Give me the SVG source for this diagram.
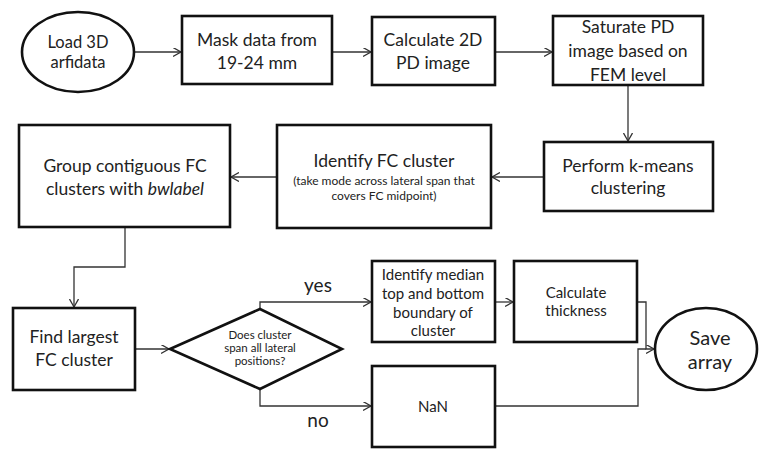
<svg xmlns="http://www.w3.org/2000/svg" width="760" height="450" viewBox="0 0 760 450">
<defs>
<style>
.box{fill:#fff;stroke:#111;stroke-width:2.6}
.con{fill:none;stroke:#333;stroke-width:1.3}
.t{font-family:Lato,"Open Sans",sans-serif;fill:#222;text-anchor:middle}
.big{font-size:17.5px}
.mid{font-size:15px}
.sm{font-size:12px}
.xs{font-size:11.5px}
</style>
<marker id="arr" markerUnits="userSpaceOnUse" markerWidth="10" markerHeight="10" refX="8" refY="4.5" orient="auto">
<path d="M0,0 L8,4.5 L0,9" fill="none" stroke="#333" stroke-width="1.3"/>
</marker>
</defs>
<rect width="760" height="450" fill="#fff"/>
<g id="connectors">
<path class="con" d="M135,52 H181" marker-end="url(#arr)"/>
<path class="con" d="M332,52 H371" marker-end="url(#arr)"/>
<path class="con" d="M495,52 H552" marker-end="url(#arr)"/>
<path class="con" d="M628,86 V141" marker-end="url(#arr)"/>
<path class="con" d="M544,177 H492" marker-end="url(#arr)"/>
<path class="con" d="M277,177 H231" marker-end="url(#arr)"/>
<path class="con" d="M125,227 V267 H74 V307" marker-end="url(#arr)"/>
<path class="con" d="M135,349 H169" marker-end="url(#arr)"/>
<path class="con" d="M260,309 V302 H371" marker-end="url(#arr)"/>
<path class="con" d="M260,389 V406 H371" marker-end="url(#arr)"/>
<path class="con" d="M495,302 H513" marker-end="url(#arr)"/>
<path class="con" d="M637,302 H646 V349 H654" marker-end="url(#arr)"/>
<path class="con" d="M495,406 H638 V349 H646"/>
<text class="t" font-size="19" x="318" y="292">yes</text>
<text class="t" font-size="19" x="318" y="427">no</text>
</g>
<g id="load">
<ellipse class="box" cx="78" cy="52" rx="56" ry="40"/>
<text class="t" font-size="16.5" x="78" y="48">Load 3D</text>
<text class="t" font-size="16.5" x="78" y="68">arfidata</text>
</g>
<g id="mask">
<rect class="box" x="182" y="16" width="150" height="68"/>
<text class="t big" x="257" y="46">Mask data from</text>
<text class="t big" x="257" y="69">19-24 mm</text>
</g>
<g id="calc2d">
<rect class="box" x="372" y="17" width="123" height="68"/>
<text class="t big" x="433" y="46">Calculate 2D</text>
<text class="t big" x="433" y="69">PD image</text>
</g>
<g id="saturate">
<rect class="box" x="553" y="16" width="150" height="69"/>
<text class="t big" x="628" y="33">Saturate PD</text>
<text class="t big" x="628" y="57">image based on</text>
<text class="t big" x="628" y="81">FEM level</text>
</g>
<g id="kmeans">
<rect class="box" x="544" y="142" width="169" height="69"/>
<text class="t big" x="628" y="172">Perform k-means</text>
<text class="t big" x="628" y="194">clustering</text>
</g>
<g id="identify">
<rect class="box" x="277" y="125" width="214" height="103"/>
<text class="t big" x="384" y="167">Identify FC cluster</text>
<text class="t sm" x="384" y="185">(take mode across lateral span that</text>
<text class="t sm" x="384" y="200">covers FC midpoint)</text>
</g>
<g id="group">
<rect class="box" x="19" y="125" width="211" height="102"/>
<text class="t big" x="125" y="172">Group contiguous FC</text>
<text class="t big" x="125" y="195">clusters with <tspan font-style="italic">bwlabel</tspan></text>
</g>
<g id="largest">
<rect class="box" x="13" y="308" width="122" height="82"/>
<text class="t big" x="74" y="343">Find largest</text>
<text class="t big" x="74" y="366">FC cluster</text>
</g>
<g id="decision">
<polygon class="box" points="170,349 260,309 342,349 260,389"/>
<text class="t xs" x="260" y="339">Does cluster</text>
<text class="t xs" x="260" y="352">span all lateral</text>
<text class="t xs" x="260" y="365">positions?</text>
</g>
<g id="median">
<rect class="box" x="372" y="261" width="123" height="81"/>
<text class="t mid" x="433" y="280">Identify median</text>
<text class="t mid" x="433" y="299">top and bottom</text>
<text class="t mid" x="433" y="318">boundary of</text>
<text class="t mid" x="433" y="336">cluster</text>
</g>
<g id="thickness">
<rect class="box" x="514" y="261" width="123" height="81"/>
<text class="t mid" x="576" y="298">Calculate</text>
<text class="t mid" x="576" y="316">thickness</text>
</g>
<g id="nan">
<rect class="box" x="372" y="366" width="123" height="81"/>
<text class="t mid" x="433" y="412">NaN</text>
</g>
<g id="save">
<ellipse class="box" cx="706" cy="349" rx="51" ry="41"/>
<text class="t" font-size="20" x="710" y="345">Save</text>
<text class="t" font-size="20" x="710" y="369">array</text>
</g>
</svg>
